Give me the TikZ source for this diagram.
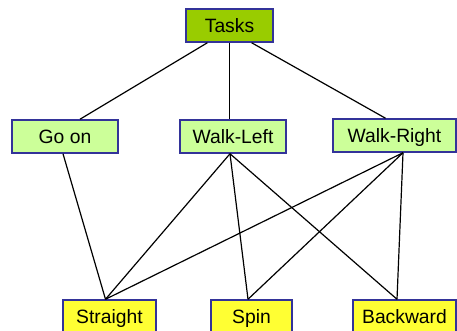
\documentclass[tikz,border=0pt]{standalone}
\usepackage{fontspec}
\setmainfont{Liberation Sans}
\usetikzlibrary{calc}
\definecolor{rootgreen}{RGB}{153,204,0}
\definecolor{taskgreen}{RGB}{204,255,153}
\definecolor{leafyellow}{RGB}{255,255,51}
\definecolor{edgeblue}{RGB}{51,51,153}

\begin{document}
\begin{tikzpicture}[x=1pt,y=-1pt,
  box/.style={draw=edgeblue,line width=1.5pt,minimum height=33pt,inner sep=0pt,
    text height=13.8pt,text depth=0pt,font=\fontsize{19.3}{22}\selectfont},
  link/.style={line width=1.2pt}]
  \useasboundingbox (0,0) rectangle (457,331);
  \clip (0,0) rectangle (457,331);

  % top task
  \node[box,fill=rootgreen,minimum width=87pt] (tasks) at (229.5,25.5) {Tasks};

  % behaviours
  \node[box,fill=taskgreen,minimum width=106pt] (goon)   at (65,136.5)    {Go on};
  \node[box,fill=taskgreen,minimum width=106pt] (wleft)  at (233,136.5)   {Walk-Left};
  \node[box,fill=taskgreen,minimum width=123pt] (wright) at (394.5,135.5) {Walk-Right};

  % primitive moves (cut at the bottom)
  \node[box,fill=leafyellow,minimum width=93pt]  (straight) at (109.5,316.5) {Straight};
  \node[box,fill=leafyellow,minimum width=81pt]  (spin)     at (251.5,316.5) {Spin};
  \node[box,fill=leafyellow,minimum width=103pt] (backward) at (404.5,316.5) {Backward};

  \coordinate (straight top) at ([xshift=-4pt]straight.north);
  \coordinate (spin top)     at ([xshift=-3.5pt]spin.north);
  \coordinate (backward top) at ([xshift=-7.5pt]backward.north);

  \draw[link] ($(tasks.south)!0.5!(tasks.south west)$) -- ([xshift=15pt]goon.north);
  \draw[link] (tasks.south) -- ([xshift=-3.5pt]wleft.north);
  \draw[link] ($(tasks.south)!0.5!(tasks.south east)$) -- ([xshift=-9pt]wright.north);

  \draw[link] ([xshift=-2pt]goon.south) -- (straight top);
  \foreach \leaf in {straight,spin,backward} {
    \draw[link] ([xshift=-3pt]wleft.south) -- (\leaf\space top);
    \draw[link] ([xshift=8.5pt]wright.south) -- (\leaf\space top);
  }
\end{tikzpicture}
\end{document}
